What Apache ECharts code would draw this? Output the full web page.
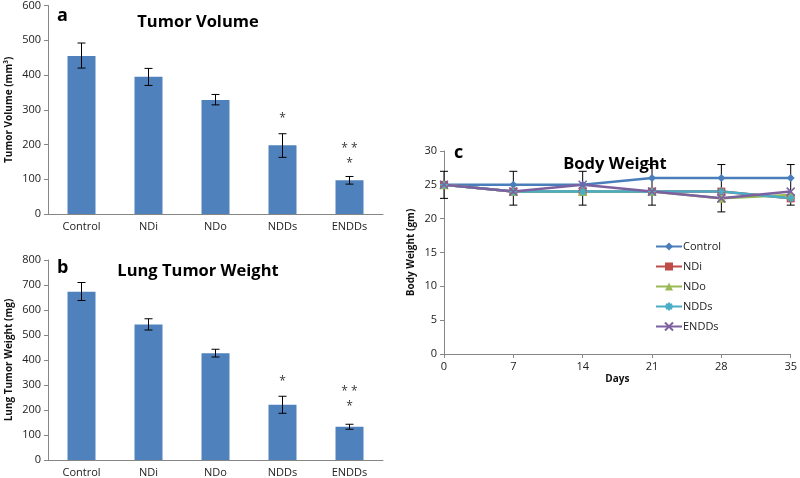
<!DOCTYPE html>
<html><head><meta charset="utf-8">
<script src="https://cdn.jsdelivr.net/npm/echarts@6/dist/echarts.min.js"></script>
<style>html,body{margin:0;padding:0;background:#fff}#c{width:800px;height:478px}</style>
</head><body><div id="c"></div>
<script>
// ---- Data ----
const groups = ['Control', 'NDi', 'NDo', 'NDDs', 'ENDDs'];
// Panel a: Tumor Volume (mm3)
const tumorVolume = [455, 395, 328, 198, 97];
const tumorVolumeLow = [420, 370, 314, 163, 86];
const tumorVolumeHigh = [492, 419, 344, 231, 108];
const tumorVolumeStars = [['NDDs', 276, '*'], ['ENDDs', 187, '* *'], ['ENDDs', 146, '*']];
// Panel b: Lung Tumor Weight (mg)
const lungWeight = [673, 542, 427, 221, 133];
const lungWeightLow = [638, 520, 412, 187, 123];
const lungWeightHigh = [710, 565, 443, 255, 143];
const lungWeightStars = [['NDDs', 313, '*'], ['ENDDs', 272, '* *'], ['ENDDs', 213, '*']];
// Panel c: Body Weight (gm)
const days = [0, 7, 14, 21, 28, 35];
const bwControl = [25, 25, 25, 26, 26, 26];
const bwNDi = [25, 24, 24, 24, 24, 23];
const bwNDo = [25, 24, 24, 24, 23, 23.5];
const bwNDDs = [25, 24, 24, 24, 24, 23];
const bwENDDs = [25, 24, 25, 24, 23, 24];
const bwErrLow = [23, 22, 22, 22, 21, 22];
const bwErrHigh = [27, 27, 27, 28, 28, 28];

// ---- Styles ----
const barColor = '#4F81BD';
const lineColors = ['#4A7EBB', '#BE4B48', '#98B954', '#4BACC6', '#7D60A0'];
const axisGray = '#868686';
const fontFam = '"Open Sans", "Liberation Sans", sans-serif';

const asteriskPath = 'path://M5,0 L5,10 M0,5 L10,5 M1.5,1.5 L8.5,8.5 M8.5,1.5 L1.5,8.5';
const xPath = 'path://M0,0 L10,10 M10,0 L0,10';

function errRender(capW) {
  return function (params, api) {
    const x = api.value(0), lo = api.value(1), hi = api.value(2);
    const p1 = api.coord([x, lo]), p2 = api.coord([x, hi]);
    const st = { stroke: '#000', lineWidth: 1 };
    return { type: 'group', children: [
      { type: 'line', shape: { x1: p1[0], y1: p1[1], x2: p2[0], y2: p2[1] }, style: st },
      { type: 'line', shape: { x1: p1[0] - capW, y1: p1[1], x2: p1[0] + capW, y2: p1[1] }, style: st },
      { type: 'line', shape: { x1: p2[0] - capW, y1: p2[1], x2: p2[0] + capW, y2: p2[1] }, style: st }
    ]};
  };
}

function catAxis(gi) {
  return {
    type: 'category', gridIndex: gi, data: groups,
    axisLine: { lineStyle: { color: axisGray } },
    axisTick: { lineStyle: { color: axisGray }, length: 4 },
    axisLabel: { color: '#222', fontSize: 11, fontFamily: fontFam, margin: 7 }
  };
}
function valAxis(gi, max, interval, name, gap) {
  return {
    type: 'value', gridIndex: gi, min: 0, max: max, interval: interval,
    name: name, nameLocation: 'middle', nameGap: gap,
    nameTextStyle: { fontWeight: 'bold', fontSize: 10, fontFamily: fontFam, color: '#111' },
    splitLine: { show: false },
    axisLine: { show: true, lineStyle: { color: axisGray } },
    axisTick: { show: true, lineStyle: { color: axisGray }, length: 4 },
    axisLabel: { color: '#222', fontSize: 11, fontFamily: fontFam, margin: 7 }
  };
}

const lineNames = groups;
const lineData = [bwControl, bwNDi, bwNDo, bwNDDs, bwENDDs];
const symbols = ['diamond', 'rect', 'triangle', asteriskPath, xPath];
const symSizes = [8, 8, 9, 8, 8];

const lineSeries = lineData.map((arr, i) => ({
  type: 'line', name: lineNames[i], xAxisIndex: 2, yAxisIndex: 2,
  data: days.map((d, k) => [d, arr[k]]),
  symbol: symbols[i], symbolSize: symSizes[i], showSymbol: true,
  lineStyle: { color: lineColors[i], width: 2.5 },
  itemStyle: { color: lineColors[i], borderColor: lineColors[i], borderWidth: i >= 3 ? 1.5 : 0 },
  z: 3
}));

const titleStyle = (size) => ({ fontSize: size, fontWeight: 'bold', color: '#000', fontFamily: fontFam });
const starLabel = { show: true, position: 'inside', formatter: p => p.data[2], fontSize: 12, color: '#000' };

const option = {
  animation: false,
  backgroundColor: '#fff',
  textStyle: { fontFamily: fontFam },
  title: [
    { text: 'Tumor Volume', left: 193, top: 9, textAlign: 'center', textStyle: titleStyle(16.5) },
    { text: 'a', left: 52, top: 2, textStyle: titleStyle(18) },
    { text: 'Lung Tumor Weight', left: 193, top: 258, textAlign: 'center', textStyle: titleStyle(16.5) },
    { text: 'b', left: 52, top: 254, textStyle: titleStyle(18) },
    { text: 'Body Weight', left: 610, top: 151, textAlign: 'center', textStyle: titleStyle(16.5) },
    { text: 'c', left: 449, top: 139, textStyle: titleStyle(18) }
  ],
  legend: {
    orient: 'vertical', left: 650, top: 236, itemGap: 9, itemWidth: 26, itemHeight: 10,
    data: lineNames,
    textStyle: { fontSize: 11, fontFamily: fontFam, color: '#222', padding: [0, 0, 0, -4] }
  },
  grid: [
    { left: 48, top: 5, width: 335, height: 209 },
    { left: 48, top: 260, width: 335, height: 200 },
    { left: 444, top: 151, width: 351, height: 203 }
  ],
  xAxis: [
    catAxis(0), catAxis(1),
    {
      type: 'value', gridIndex: 2, min: 0, max: 35, interval: 7,
      name: 'Days', nameLocation: 'middle', nameGap: 20,
      nameTextStyle: { fontWeight: 'bold', fontSize: 10, fontFamily: fontFam, color: '#111' },
      splitLine: { show: false },
      axisLine: { lineStyle: { color: axisGray } },
      axisTick: { lineStyle: { color: axisGray }, length: 4 },
      axisLabel: { color: '#222', fontSize: 11, fontFamily: fontFam, margin: 7 }
    }
  ],
  yAxis: [
    valAxis(0, 600, 100, 'Tumor Volume (mm³)', 34),
    valAxis(1, 800, 100, 'Lung Tumor Weight (mg)', 34),
    valAxis(2, 30, 5, 'Body Weight (gm)', 28)
  ],
  series: [
    { type: 'bar', xAxisIndex: 0, yAxisIndex: 0, data: tumorVolume, barWidth: 28, itemStyle: { color: barColor } },
    { type: 'custom', xAxisIndex: 0, yAxisIndex: 0, renderItem: errRender(4),
      data: groups.map((g, i) => [i, tumorVolumeLow[i], tumorVolumeHigh[i]]), z: 5 },
    { type: 'scatter', xAxisIndex: 0, yAxisIndex: 0, symbolSize: 0, data: tumorVolumeStars.map(s => [s[0], s[1], s[2]]),
      label: starLabel },
    { type: 'bar', xAxisIndex: 1, yAxisIndex: 1, data: lungWeight, barWidth: 28, itemStyle: { color: barColor } },
    { type: 'custom', xAxisIndex: 1, yAxisIndex: 1, renderItem: errRender(4),
      data: groups.map((g, i) => [i, lungWeightLow[i], lungWeightHigh[i]]), z: 5 },
    { type: 'scatter', xAxisIndex: 1, yAxisIndex: 1, symbolSize: 0, data: lungWeightStars.map(s => [s[0], s[1], s[2]]),
      label: starLabel },
    { type: 'custom', xAxisIndex: 2, yAxisIndex: 2, renderItem: errRender(4),
      data: days.map((d, i) => [d, bwErrLow[i], bwErrHigh[i]]), z: 2, clip: false },
    ...lineSeries
  ]
};
const chart = echarts.init(document.getElementById('c'), null, { renderer: 'canvas' });
chart.setOption(option);
</script>
</body></html>
